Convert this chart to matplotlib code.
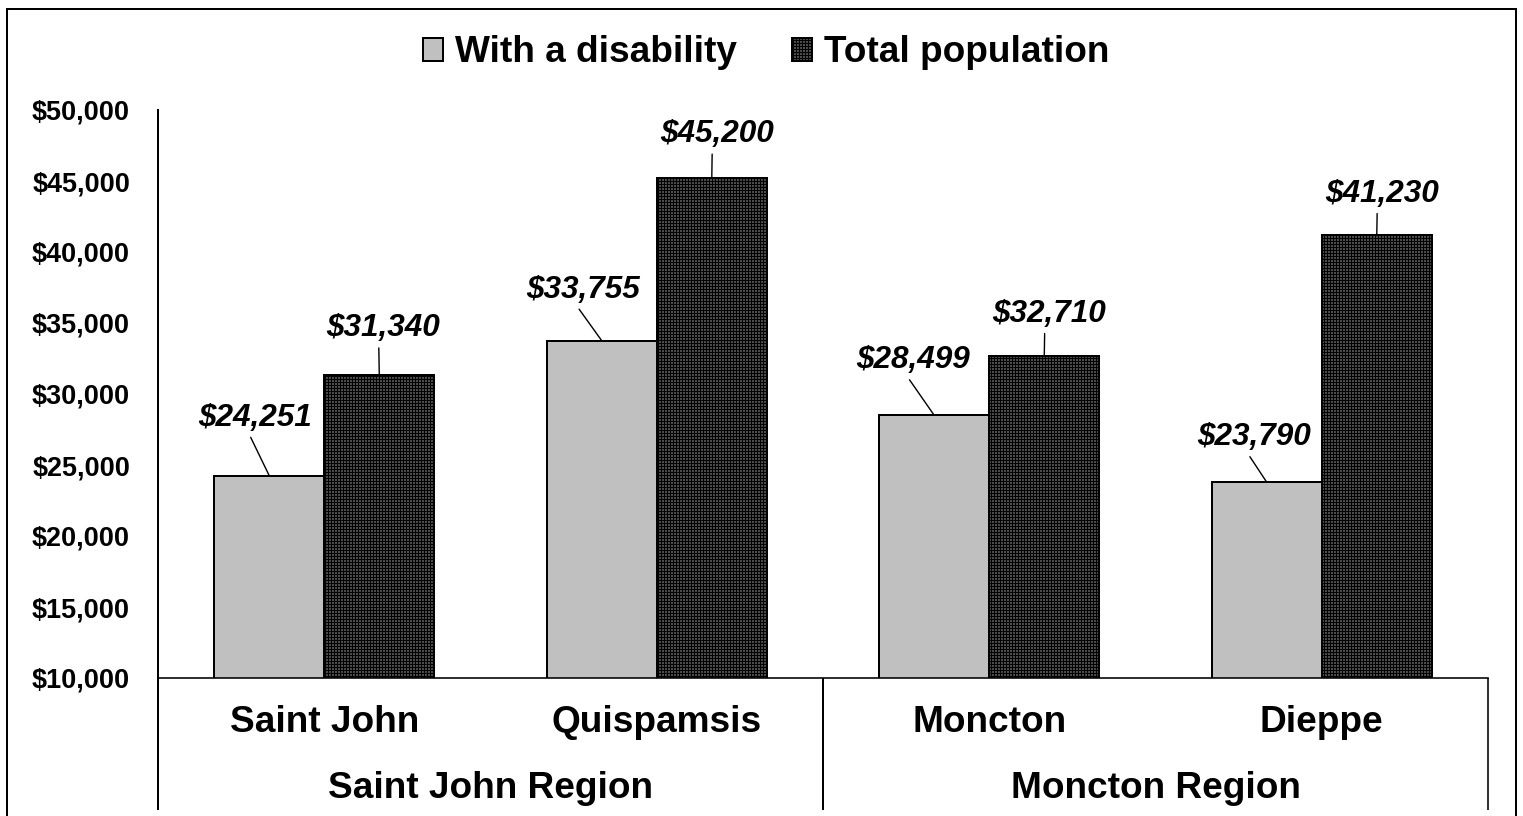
import numpy as np
import matplotlib
matplotlib.use("Agg")
import matplotlib.pyplot as plt
from matplotlib.patches import Rectangle
import matplotlib.transforms as mtransforms

# Median income by community
cities = ["Saint John", "Quispamsis", "Moncton", "Dieppe"]
regions = ["Saint John Region", "Moncton Region"]
series_names = ["With a disability", "Total population"]
with_disability = [24251, 33755, 28499, 23790]
total_population = [31340, 45200, 32710, 41230]
y_ticks = [10000, 15000, 20000, 25000, 30000, 35000, 40000, 45000, 50000]

DPI = 72
W, H = 1523, 816
plt.rcParams['font.family'] = ['Liberation Sans', 'DejaVu Sans']
plt.rcParams['font.weight'] = 'bold'
plt.rcParams['hatch.linewidth'] = 1.7

fig = plt.figure(figsize=(W / DPI, H / DPI), dpi=DPI)
ax = fig.add_axes([158 / W, 138 / H, 1330 / W, 568 / H])

x = np.arange(len(cities))
bw = 0.331
lw = 2.0
b1 = ax.bar(x - bw / 2, with_disability, bw, color="#C0C0C0",
            edgecolor="black", linewidth=lw, label=series_names[0])
# dense black grid on white reads as a black bar with white dots
b2 = ax.bar(x + bw / 2, total_population, bw, color="white",
            edgecolor="black", linewidth=lw, hatch="++++",
            label=series_names[1])

ax.set_xlim(-0.5, len(cities) - 0.5)
ax.set_ylim(y_ticks[0], y_ticks[-1])
ax.set_yticks(y_ticks)
ax.set_yticklabels([f"${v:,}" for v in y_ticks])
ax.tick_params(axis="y", length=0, pad=28, labelsize=27)
ax.set_xticks([])
for s in ("top", "right"):
    ax.spines[s].set_visible(False)
ax.spines["left"].set_linewidth(2.0)
ax.spines["bottom"].set_linewidth(1.6)

# value labels with leader lines
lab_font = dict(fontsize=31.5, fontweight="bold", fontstyle="italic")
dis_off = [(-14, 58), (-19, 51), (-21, 55), (-13, 45)]
tot_off = [(4, 47), (5, 44), (5, 42), (5, 41)]
for i in range(len(cities)):
    ax.annotate(f"${with_disability[i]:,}", xy=(x[i] - bw / 2, with_disability[i]),
                xytext=dis_off[i], textcoords="offset pixels",
                ha="center", va="center", **lab_font,
                arrowprops=dict(arrowstyle="-", color="black", lw=1.4,
                                relpos=(0.44, 0.0), shrinkA=3, shrinkB=0))
    ax.annotate(f"${total_population[i]:,}", xy=(x[i] + bw / 2, total_population[i]),
                xytext=tot_off[i], textcoords="offset pixels",
                ha="center", va="center", **lab_font,
                arrowprops=dict(arrowstyle="-", color="black", lw=1.4,
                                relpos=(0.46, 0.0), shrinkA=3, shrinkB=0))

# category axis: city row and region row
trans = mtransforms.blended_transform_factory(ax.transData, ax.transAxes)
low = -132 / 568
for xv in (-0.5, 1.5, 3.5):
    ax.plot([xv, xv], [0, low], transform=trans, color="black",
            lw=2.0 if xv != 3.5 else 1.6, clip_on=False, solid_capstyle="butt")
for i, c in enumerate(cities):
    ax.text(x[i], -44 / 568, c, transform=trans, ha="center", va="center",
            fontsize=37, fontweight="bold")
for j, r in enumerate(regions):
    ax.text(2 * j + 0.5, -110 / 568, r, transform=trans, ha="center",
            va="center", fontsize=37, fontweight="bold")

fig.legend([b1, b2], series_names, loc="center",
           bbox_to_anchor=(766 / W, 1 - 53 / H), ncol=2, frameon=False,
           fontsize=37, handlelength=0.55, handleheight=0.55,
           handletextpad=0.3, columnspacing=1.5, borderpad=0)

# outer frame
fig.patches.append(Rectangle((7 / W, -0.05), (1516 - 7) / W, 1.05 - 9 / H,
                             transform=fig.transFigure, fill=False,
                             lw=2.0, ec="black"))

fig.savefig("out.png", dpi=DPI)
